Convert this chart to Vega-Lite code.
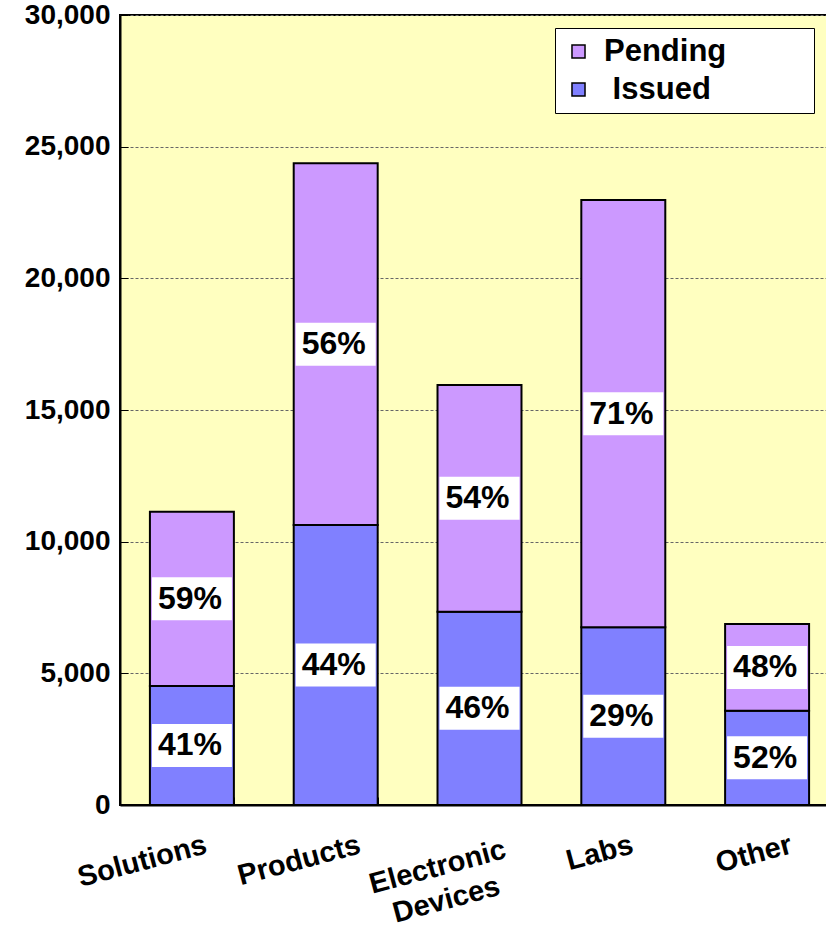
{
  "$schema": "https://vega.github.io/schema/vega-lite/v6.json",
  "width": 719,
  "height": 790,
  "autosize": {"type": "none"},
  "padding": {"left": 120, "top": 15, "right": 0, "bottom": 126},
  "background": "white",
  "config": {
    "font": "Liberation Sans",
    "view": {"fill": "#FFFFC0", "stroke": "black", "strokeWidth": 2}
  },
  "data": {
    "values": [
      {"cat": "Solutions", "series": "Issued", "value": 4520, "pct": "41%"},
      {"cat": "Solutions", "series": "Pending", "value": 6620, "pct": "59%"},
      {"cat": "Products", "series": "Issued", "value": 10630, "pct": "44%"},
      {"cat": "Products", "series": "Pending", "value": 13740, "pct": "56%"},
      {"cat": "Electronic Devices", "series": "Issued", "value": 7340, "pct": "46%"},
      {"cat": "Electronic Devices", "series": "Pending", "value": 8610, "pct": "54%"},
      {"cat": "Labs", "series": "Issued", "value": 6750, "pct": "29%"},
      {"cat": "Labs", "series": "Pending", "value": 16220, "pct": "71%"},
      {"cat": "Other", "series": "Issued", "value": 3580, "pct": "52%"},
      {"cat": "Other", "series": "Pending", "value": 3290, "pct": "48%"}
    ]
  },
  "transform": [
    {"stack": "value", "groupby": ["cat"], "sort": [{"field": "series", "order": "ascending"}], "as": ["v0", "v1"]},
    {"calculate": "(datum.v0 + datum.v1) / 2", "as": "mid"}
  ],
  "encoding": {
    "x": {
      "field": "cat",
      "type": "nominal",
      "sort": ["Solutions", "Products", "Electronic Devices", "Labs", "Other"],
      "scale": {"paddingInner": 0.416, "paddingOuter": 0.208},
      "axis": {
        "title": null,
        "domainColor": "black",
        "domainWidth": 2,
        "tickBand": "extent",
        "tickSize": -8,
        "tickColor": "black",
        "tickWidth": 1,
        "labelAngle": -15,
        "labelAlign": {"condition": {"test": "datum.value == 'Electronic Devices'", "value": "center"}, "value": "right"},
        "labelBaseline": "top",
        "labelOffset": {
          "condition": [
            {"test": "datum.value == 'Solutions'", "value": 10},
            {"test": "datum.value == 'Labs'", "value": 5},
            {"test": "datum.value == 'Electronic Devices'", "value": -46}
          ],
          "value": 20
        },
        "labelPadding": {"condition": {"test": "datum.value == 'Electronic Devices'", "value": 56}, "value": 33},
        "labelFontSize": 29,
        "labelFontWeight": "bold",
        "labelColor": "black",
        "labelLineHeight": 34,
        "labelFlush": false,
        "labelOverlap": false,
        "labelExpr": "datum.value == 'Electronic Devices' ? ['Electronic', 'Devices'] : datum.label"
      }
    }
  },
  "layer": [
    {
      "mark": {"type": "bar", "stroke": "black", "strokeWidth": 2},
      "encoding": {
        "y": {
          "field": "v0",
          "type": "quantitative",
          "scale": {"domain": [0, 30000], "nice": false},
          "axis": {
            "title": null,
            "values": [0, 5000, 10000, 15000, 20000, 25000, 30000],
            "format": ",.0f",
            "domainColor": "black",
            "domainWidth": 2,
            "tickSize": -8,
            "tickColor": "black",
            "labelFontSize": 28,
            "labelFontWeight": "bold",
            "labelColor": "black",
            "labelPadding": 18,
            "labelFlush": false,
            "grid": true,
            "gridColor": "#666666",
            "gridDash": [3, 2],
            "gridWidth": 1
          }
        },
        "y2": {"field": "v1"},
        "color": {
          "field": "series",
          "type": "nominal",
          "scale": {"domain": ["Pending", "Issued"], "range": ["#CC99FF", "#8080FF"]},
          "legend": {
            "title": null,
            "orient": "none",
            "legendX": 435,
            "legendY": 13,
            "fillColor": "white",
            "strokeColor": "black",
            "padding": 8,
            "symbolType": "square",
            "symbolSize": 170,
            "symbolStrokeColor": "black",
            "symbolStrokeWidth": 1.5,
            "symbolOpacity": 1,
            "labelFontSize": 31,
            "labelFontWeight": "bold",
            "labelColor": "black",
            "labelOffset": 10,
            "labelLimit": 400,
            "rowPadding": 6,
            "labelExpr": "datum.label == 'Issued' ? '\u200b\u00a0Issued\u2003\u2003\u200b' : datum.label + '\u2003\u2003\u00a0\u00a0\u200b'"
          }
        }
      }
    },
    {
      "mark": {"type": "tick", "orient": "horizontal", "color": "white", "opacity": 1, "size": 80, "thickness": 43},
      "encoding": {"y": {"field": "mid", "type": "quantitative"}}
    },
    {
      "mark": {"type": "text", "align": "center", "baseline": "middle", "dx": -2, "fontSize": 32, "fontWeight": "bold", "color": "black"},
      "encoding": {"y": {"field": "mid", "type": "quantitative"}, "text": {"field": "pct"}}
    }
  ]
}
